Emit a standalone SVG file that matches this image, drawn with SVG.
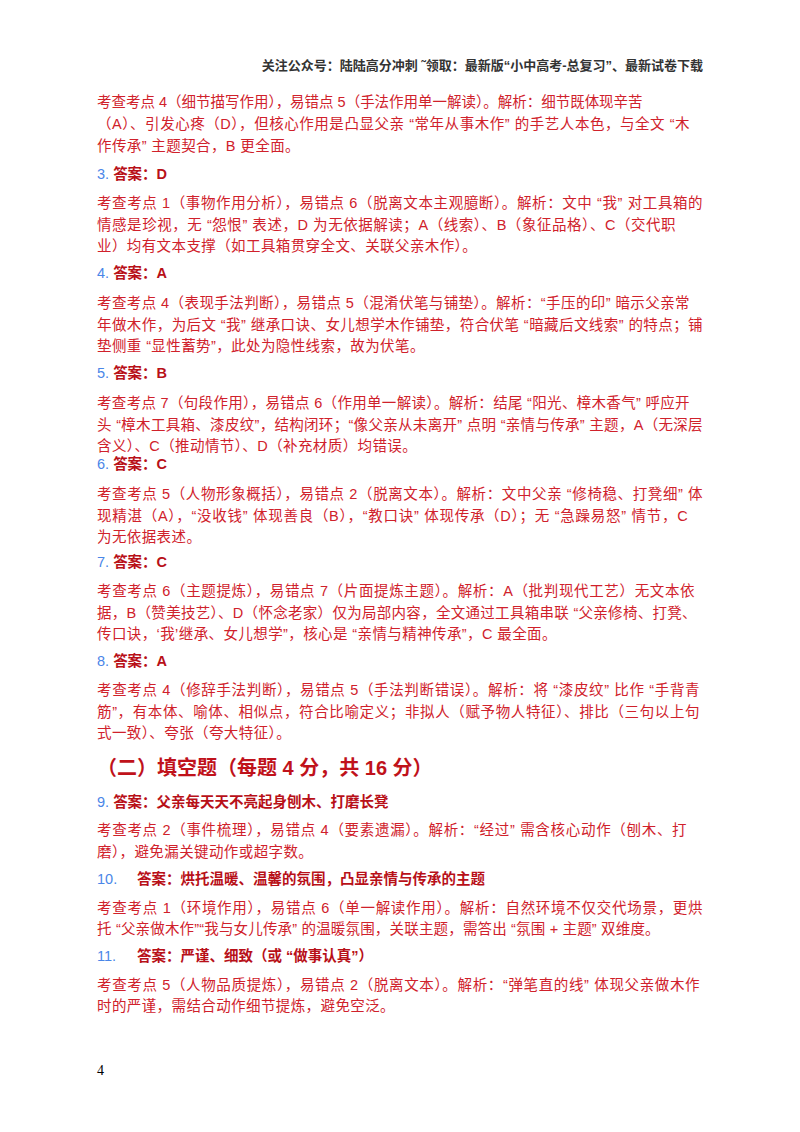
<svg xmlns="http://www.w3.org/2000/svg" width="800" height="1132" viewBox="0 0 800 1132">
<style>
text{font-family:"Liberation Sans","Noto Sans CJK SC",sans-serif;}
.b{font-size:14.5px;fill:#d0212b;letter-spacing:0.4px;}
.a{font-size:14.5px;font-weight:bold;fill:#b81018;}
.n{font-size:14.5px;fill:#4a86e8;font-weight:normal;}
.h{font-size:13px;fill:#333;font-weight:bold;}
.t{font-size:20px;font-weight:bold;fill:#c0121b;}
</style>
<rect width="800" height="1132" fill="#fff"/>
<text class="h" x="703" y="70" text-anchor="end">关注公众号：陆陆高分冲刺  ˜领取：最新版“小中高考-总复习”、最新试卷下载</text>
<g id="q2">
<text class="b" x="97" y="107" textLength="546" lengthAdjust="spacing">考查考点 4（细节描写作用），易错点 5（手法作用单一解读）。解析：细节既体现辛苦</text>
<text class="b" x="97" y="129" textLength="593" lengthAdjust="spacing">（A）、引发心疼（D），但核心作用是凸显父亲 “常年从事木作” 的手艺人本色，与全文 “木</text>
<text class="b" x="97" y="151">作传承” 主题契合，B 更全面。</text>
</g>
<g id="q3">
<text class="a" x="97" y="179"><tspan class="n">3. </tspan>答案：D</text>
<text class="b" x="97" y="208" textLength="606" lengthAdjust="spacing">考查考点 1（事物作用分析），易错点 6（脱离文本主观臆断）。解析：文中 “我” 对工具箱的</text>
<text class="b" x="97" y="230" textLength="579" lengthAdjust="spacing">情感是珍视，无 “怨恨” 表述，D 为无依据解读；A（线索）、B（象征品格）、C（交代职</text>
<text class="b" x="97" y="251">业）均有文本支撑（如工具箱贯穿全文、关联父亲木作）。</text>
</g>
<g id="q4">
<text class="a" x="97" y="278"><tspan class="n">4. </tspan>答案：A</text>
<text class="b" x="97" y="308" textLength="593" lengthAdjust="spacing">考查考点 4（表现手法判断），易错点 5（混淆伏笔与铺垫）。解析：“手压的印” 暗示父亲常</text>
<text class="b" x="97" y="330" textLength="606" lengthAdjust="spacing">年做木作，为后文 “我” 继承口诀、女儿想学木作铺垫，符合伏笔 “暗藏后文线索” 的特点；铺</text>
<text class="b" x="97" y="351">垫侧重 “显性蓄势”，此处为隐性线索，故为伏笔。</text>
</g>
<g id="q5">
<text class="a" x="97" y="378"><tspan class="n">5. </tspan>答案：B</text>
<text class="b" x="97" y="408" textLength="593" lengthAdjust="spacing">考查考点 7（句段作用），易错点 6（作用单一解读）。解析：结尾 “阳光、樟木香气” 呼应开</text>
<text class="b" x="97" y="430" textLength="606" lengthAdjust="spacing">头 “樟木工具箱、漆皮纹”，结构闭环；“像父亲从未离开” 点明 “亲情与传承” 主题，A（无深层</text>
<text class="b" x="97" y="451">含义）、C（推动情节）、D（补充材质）均错误。</text>
</g>
<g id="q6">
<text class="a" x="97" y="469"><tspan class="n">6. </tspan>答案：C</text>
<text class="b" x="97" y="499" textLength="606" lengthAdjust="spacing">考查考点 5（人物形象概括），易错点 2（脱离文本）。解析：文中父亲 “修椅稳、打凳细” 体</text>
<text class="b" x="97" y="521" textLength="591" lengthAdjust="spacing">现精湛（A），“没收钱” 体现善良（B），“教口诀” 体现传承（D）；无 “急躁易怒” 情节，C</text>
<text class="b" x="97" y="542">为无依据表述。</text>
</g>
<g id="q7">
<text class="a" x="97" y="567"><tspan class="n">7. </tspan>答案：C</text>
<text class="b" x="97" y="596" textLength="598" lengthAdjust="spacing">考查考点 6（主题提炼），易错点 7（片面提炼主题）。解析：A（批判现代工艺）无文本依</text>
<text class="b" x="97" y="618" textLength="600" lengthAdjust="spacing">据，B（赞美技艺）、D（怀念老家）仅为局部内容，全文通过工具箱串联 “父亲修椅、打凳、</text>
<text class="b" x="97" y="639">传口诀，‘我’继承、女儿想学”，核心是 “亲情与精神传承”，C 最全面。</text>
</g>
<g id="q8">
<text class="a" x="97" y="666"><tspan class="n">8. </tspan>答案：A</text>
<text class="b" x="97" y="695" textLength="603" lengthAdjust="spacing">考查考点 4（修辞手法判断），易错点 5（手法判断错误）。解析：将 “漆皮纹” 比作 “手背青</text>
<text class="b" x="97" y="717" textLength="603" lengthAdjust="spacing">筋”，有本体、喻体、相似点，符合比喻定义；非拟人（赋予物人特征）、排比（三句以上句</text>
<text class="b" x="97" y="738">式一致）、夸张（夸大特征）。</text>
</g>
<text class="t" x="97" y="775">（二）填空题（每题 4 分，共 16 分）</text>
<g id="q9">
<text class="a" x="97" y="807"><tspan class="n">9. </tspan>答案：父亲每天天不亮起身刨木、打磨长凳</text>
<text class="b" x="97" y="835" textLength="590" lengthAdjust="spacing">考查考点 2（事件梳理），易错点 4（要素遗漏）。解析：“经过” 需含核心动作（刨木、打</text>
<text class="b" x="97" y="857">磨），避免漏关键动作或超字数。</text>
</g>
<g id="q10">
<text class="n" x="97" y="884">10.</text>
<text class="a" x="137" y="884">答案：烘托温暖、温馨的氛围，凸显亲情与传承的主题</text>
<text class="b" x="97" y="913" textLength="606" lengthAdjust="spacing">考查考点 1（环境作用），易错点 6（单一解读作用）。解析：自然环境不仅交代场景，更烘</text>
<text class="b" x="97" y="934" textLength="563" lengthAdjust="spacing">托 “父亲做木作”“我与女儿传承” 的温暖氛围，关联主题，需答出 “氛围 + 主题” 双维度。</text>
</g>
<g id="q11">
<text class="n" x="97" y="961">11.</text>
<text class="a" x="137" y="961">答案：严谨、细致（或 “做事认真”）</text>
<text class="b" x="97" y="990" textLength="603" lengthAdjust="spacing">考查考点 5（人物品质提炼），易错点 2（脱离文本）。解析：“弹笔直的线” 体现父亲做木作</text>
<text class="b" x="97" y="1011">时的严谨，需结合动作细节提炼，避免空泛。</text>
</g>
<text x="97" y="1075" style="font-family:'Liberation Serif',serif;font-size:14px;fill:#000">4</text>
</svg>
